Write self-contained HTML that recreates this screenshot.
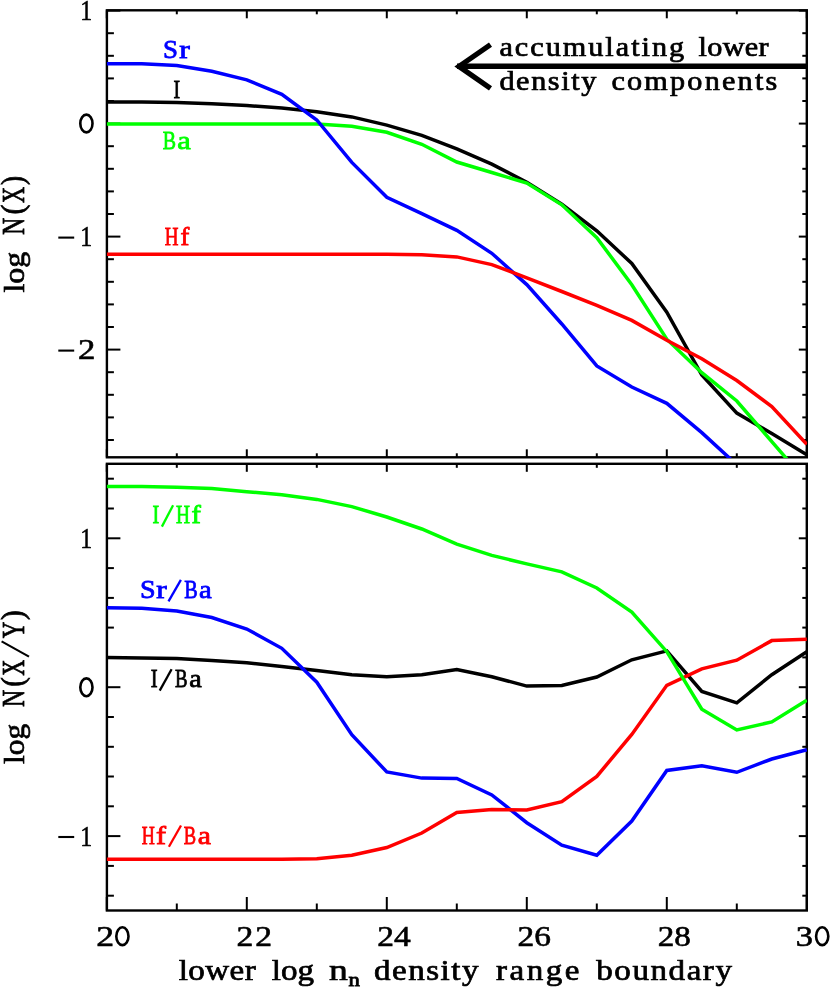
<!DOCTYPE html>
<html><head><meta charset="utf-8"><title>chart</title>
<style>
html,body{margin:0;padding:0;background:#fff;}
body{width:830px;height:990px;overflow:hidden;}
svg{display:block;will-change:transform;}
text{font-family:"Liberation Serif",serif;}
</style></head><body>
<svg width="830" height="990" viewBox="0 0 830 990">
<rect x="0" y="0" width="830" height="990" fill="#fff"/>
<defs>
<clipPath id="c1"><rect x="106.6" y="10.3" width="700.5" height="447.6"/></clipPath>
<clipPath id="c2"><rect x="106.6" y="463.8" width="700.5" height="447.3"/></clipPath>
</defs>
<g>
<line x1="106.8" y1="10.3" x2="106.8" y2="18.3" stroke="#000" stroke-width="2.0"/>
<line x1="176.8" y1="10.3" x2="176.8" y2="14.3" stroke="#000" stroke-width="2.0"/>
<line x1="246.8" y1="10.3" x2="246.8" y2="18.3" stroke="#000" stroke-width="2.0"/>
<line x1="316.8" y1="10.3" x2="316.8" y2="14.3" stroke="#000" stroke-width="2.0"/>
<line x1="386.8" y1="10.3" x2="386.8" y2="18.3" stroke="#000" stroke-width="2.0"/>
<line x1="456.8" y1="10.3" x2="456.8" y2="14.3" stroke="#000" stroke-width="2.0"/>
<line x1="526.8" y1="10.3" x2="526.8" y2="18.3" stroke="#000" stroke-width="2.0"/>
<line x1="596.8" y1="10.3" x2="596.8" y2="14.3" stroke="#000" stroke-width="2.0"/>
<line x1="666.8" y1="10.3" x2="666.8" y2="18.3" stroke="#000" stroke-width="2.0"/>
<line x1="736.8" y1="10.3" x2="736.8" y2="14.3" stroke="#000" stroke-width="2.0"/>
<line x1="806.8" y1="10.3" x2="806.8" y2="18.3" stroke="#000" stroke-width="2.0"/>
<line x1="106.8" y1="457.3" x2="106.8" y2="449.3" stroke="#000" stroke-width="2.0"/>
<line x1="176.8" y1="457.3" x2="176.8" y2="453.3" stroke="#000" stroke-width="2.0"/>
<line x1="246.8" y1="457.3" x2="246.8" y2="449.3" stroke="#000" stroke-width="2.0"/>
<line x1="316.8" y1="457.3" x2="316.8" y2="453.3" stroke="#000" stroke-width="2.0"/>
<line x1="386.8" y1="457.3" x2="386.8" y2="449.3" stroke="#000" stroke-width="2.0"/>
<line x1="456.8" y1="457.3" x2="456.8" y2="453.3" stroke="#000" stroke-width="2.0"/>
<line x1="526.8" y1="457.3" x2="526.8" y2="449.3" stroke="#000" stroke-width="2.0"/>
<line x1="596.8" y1="457.3" x2="596.8" y2="453.3" stroke="#000" stroke-width="2.0"/>
<line x1="666.8" y1="457.3" x2="666.8" y2="449.3" stroke="#000" stroke-width="2.0"/>
<line x1="736.8" y1="457.3" x2="736.8" y2="453.3" stroke="#000" stroke-width="2.0"/>
<line x1="806.8" y1="457.3" x2="806.8" y2="449.3" stroke="#000" stroke-width="2.0"/>
<line x1="106.9" y1="440.0" x2="113.9" y2="440.0" stroke="#000" stroke-width="2.0"/>
<line x1="106.9" y1="417.4" x2="113.9" y2="417.4" stroke="#000" stroke-width="2.0"/>
<line x1="106.9" y1="394.8" x2="113.9" y2="394.8" stroke="#000" stroke-width="2.0"/>
<line x1="106.9" y1="372.2" x2="113.9" y2="372.2" stroke="#000" stroke-width="2.0"/>
<line x1="106.9" y1="349.6" x2="120.4" y2="349.6" stroke="#000" stroke-width="2.0"/>
<line x1="106.9" y1="327.0" x2="113.9" y2="327.0" stroke="#000" stroke-width="2.0"/>
<line x1="106.9" y1="304.4" x2="113.9" y2="304.4" stroke="#000" stroke-width="2.0"/>
<line x1="106.9" y1="281.8" x2="113.9" y2="281.8" stroke="#000" stroke-width="2.0"/>
<line x1="106.9" y1="259.2" x2="113.9" y2="259.2" stroke="#000" stroke-width="2.0"/>
<line x1="106.9" y1="236.6" x2="120.4" y2="236.6" stroke="#000" stroke-width="2.0"/>
<line x1="106.9" y1="214.0" x2="113.9" y2="214.0" stroke="#000" stroke-width="2.0"/>
<line x1="106.9" y1="191.4" x2="113.9" y2="191.4" stroke="#000" stroke-width="2.0"/>
<line x1="106.9" y1="168.8" x2="113.9" y2="168.8" stroke="#000" stroke-width="2.0"/>
<line x1="106.9" y1="146.2" x2="113.9" y2="146.2" stroke="#000" stroke-width="2.0"/>
<line x1="106.9" y1="123.6" x2="120.4" y2="123.6" stroke="#000" stroke-width="2.0"/>
<line x1="106.9" y1="101.0" x2="113.9" y2="101.0" stroke="#000" stroke-width="2.0"/>
<line x1="106.9" y1="78.4" x2="113.9" y2="78.4" stroke="#000" stroke-width="2.0"/>
<line x1="106.9" y1="55.8" x2="113.9" y2="55.8" stroke="#000" stroke-width="2.0"/>
<line x1="106.9" y1="33.2" x2="113.9" y2="33.2" stroke="#000" stroke-width="2.0"/>
<line x1="106.9" y1="10.6" x2="120.4" y2="10.6" stroke="#000" stroke-width="2.0"/>
<line x1="806.8" y1="440.0" x2="802.3" y2="440.0" stroke="#000" stroke-width="2.0"/>
<line x1="806.8" y1="417.4" x2="802.3" y2="417.4" stroke="#000" stroke-width="2.0"/>
<line x1="806.8" y1="394.8" x2="802.3" y2="394.8" stroke="#000" stroke-width="2.0"/>
<line x1="806.8" y1="372.2" x2="802.3" y2="372.2" stroke="#000" stroke-width="2.0"/>
<line x1="806.8" y1="349.6" x2="798.8" y2="349.6" stroke="#000" stroke-width="2.0"/>
<line x1="806.8" y1="327.0" x2="802.3" y2="327.0" stroke="#000" stroke-width="2.0"/>
<line x1="806.8" y1="304.4" x2="802.3" y2="304.4" stroke="#000" stroke-width="2.0"/>
<line x1="806.8" y1="281.8" x2="802.3" y2="281.8" stroke="#000" stroke-width="2.0"/>
<line x1="806.8" y1="259.2" x2="802.3" y2="259.2" stroke="#000" stroke-width="2.0"/>
<line x1="806.8" y1="236.6" x2="798.8" y2="236.6" stroke="#000" stroke-width="2.0"/>
<line x1="806.8" y1="214.0" x2="802.3" y2="214.0" stroke="#000" stroke-width="2.0"/>
<line x1="806.8" y1="191.4" x2="802.3" y2="191.4" stroke="#000" stroke-width="2.0"/>
<line x1="806.8" y1="168.8" x2="802.3" y2="168.8" stroke="#000" stroke-width="2.0"/>
<line x1="806.8" y1="146.2" x2="802.3" y2="146.2" stroke="#000" stroke-width="2.0"/>
<line x1="806.8" y1="123.6" x2="798.8" y2="123.6" stroke="#000" stroke-width="2.0"/>
<line x1="806.8" y1="101.0" x2="802.3" y2="101.0" stroke="#000" stroke-width="2.0"/>
<line x1="806.8" y1="78.4" x2="802.3" y2="78.4" stroke="#000" stroke-width="2.0"/>
<line x1="806.8" y1="55.8" x2="802.3" y2="55.8" stroke="#000" stroke-width="2.0"/>
<line x1="806.8" y1="33.2" x2="802.3" y2="33.2" stroke="#000" stroke-width="2.0"/>
<line x1="806.8" y1="10.6" x2="798.8" y2="10.6" stroke="#000" stroke-width="2.0"/>
<line x1="106.8" y1="463.8" x2="106.8" y2="471.8" stroke="#000" stroke-width="2.0"/>
<line x1="176.8" y1="463.8" x2="176.8" y2="467.8" stroke="#000" stroke-width="2.0"/>
<line x1="246.8" y1="463.8" x2="246.8" y2="471.8" stroke="#000" stroke-width="2.0"/>
<line x1="316.8" y1="463.8" x2="316.8" y2="467.8" stroke="#000" stroke-width="2.0"/>
<line x1="386.8" y1="463.8" x2="386.8" y2="471.8" stroke="#000" stroke-width="2.0"/>
<line x1="456.8" y1="463.8" x2="456.8" y2="467.8" stroke="#000" stroke-width="2.0"/>
<line x1="526.8" y1="463.8" x2="526.8" y2="471.8" stroke="#000" stroke-width="2.0"/>
<line x1="596.8" y1="463.8" x2="596.8" y2="467.8" stroke="#000" stroke-width="2.0"/>
<line x1="666.8" y1="463.8" x2="666.8" y2="471.8" stroke="#000" stroke-width="2.0"/>
<line x1="736.8" y1="463.8" x2="736.8" y2="467.8" stroke="#000" stroke-width="2.0"/>
<line x1="806.8" y1="463.8" x2="806.8" y2="471.8" stroke="#000" stroke-width="2.0"/>
<line x1="106.8" y1="910.5" x2="106.8" y2="897.0" stroke="#000" stroke-width="2.0"/>
<line x1="176.8" y1="910.5" x2="176.8" y2="903.5" stroke="#000" stroke-width="2.0"/>
<line x1="246.8" y1="910.5" x2="246.8" y2="897.0" stroke="#000" stroke-width="2.0"/>
<line x1="316.8" y1="910.5" x2="316.8" y2="903.5" stroke="#000" stroke-width="2.0"/>
<line x1="386.8" y1="910.5" x2="386.8" y2="897.0" stroke="#000" stroke-width="2.0"/>
<line x1="456.8" y1="910.5" x2="456.8" y2="903.5" stroke="#000" stroke-width="2.0"/>
<line x1="526.8" y1="910.5" x2="526.8" y2="897.0" stroke="#000" stroke-width="2.0"/>
<line x1="596.8" y1="910.5" x2="596.8" y2="903.5" stroke="#000" stroke-width="2.0"/>
<line x1="666.8" y1="910.5" x2="666.8" y2="897.0" stroke="#000" stroke-width="2.0"/>
<line x1="736.8" y1="910.5" x2="736.8" y2="903.5" stroke="#000" stroke-width="2.0"/>
<line x1="806.8" y1="910.5" x2="806.8" y2="897.0" stroke="#000" stroke-width="2.0"/>
<line x1="106.9" y1="895.7" x2="113.9" y2="895.7" stroke="#000" stroke-width="2.0"/>
<line x1="106.9" y1="865.9" x2="113.9" y2="865.9" stroke="#000" stroke-width="2.0"/>
<line x1="106.9" y1="836.1" x2="120.4" y2="836.1" stroke="#000" stroke-width="2.0"/>
<line x1="106.9" y1="806.3" x2="113.9" y2="806.3" stroke="#000" stroke-width="2.0"/>
<line x1="106.9" y1="776.5" x2="113.9" y2="776.5" stroke="#000" stroke-width="2.0"/>
<line x1="106.9" y1="746.8" x2="113.9" y2="746.8" stroke="#000" stroke-width="2.0"/>
<line x1="106.9" y1="717.0" x2="113.9" y2="717.0" stroke="#000" stroke-width="2.0"/>
<line x1="106.9" y1="687.2" x2="120.4" y2="687.2" stroke="#000" stroke-width="2.0"/>
<line x1="106.9" y1="657.4" x2="113.9" y2="657.4" stroke="#000" stroke-width="2.0"/>
<line x1="106.9" y1="627.6" x2="113.9" y2="627.6" stroke="#000" stroke-width="2.0"/>
<line x1="106.9" y1="597.9" x2="113.9" y2="597.9" stroke="#000" stroke-width="2.0"/>
<line x1="106.9" y1="568.1" x2="113.9" y2="568.1" stroke="#000" stroke-width="2.0"/>
<line x1="106.9" y1="538.3" x2="120.4" y2="538.3" stroke="#000" stroke-width="2.0"/>
<line x1="106.9" y1="508.5" x2="113.9" y2="508.5" stroke="#000" stroke-width="2.0"/>
<line x1="106.9" y1="478.7" x2="113.9" y2="478.7" stroke="#000" stroke-width="2.0"/>
<line x1="806.8" y1="895.7" x2="802.3" y2="895.7" stroke="#000" stroke-width="2.0"/>
<line x1="806.8" y1="865.9" x2="802.3" y2="865.9" stroke="#000" stroke-width="2.0"/>
<line x1="806.8" y1="836.1" x2="798.8" y2="836.1" stroke="#000" stroke-width="2.0"/>
<line x1="806.8" y1="806.3" x2="802.3" y2="806.3" stroke="#000" stroke-width="2.0"/>
<line x1="806.8" y1="776.5" x2="802.3" y2="776.5" stroke="#000" stroke-width="2.0"/>
<line x1="806.8" y1="746.8" x2="802.3" y2="746.8" stroke="#000" stroke-width="2.0"/>
<line x1="806.8" y1="717.0" x2="802.3" y2="717.0" stroke="#000" stroke-width="2.0"/>
<line x1="806.8" y1="687.2" x2="798.8" y2="687.2" stroke="#000" stroke-width="2.0"/>
<line x1="806.8" y1="657.4" x2="802.3" y2="657.4" stroke="#000" stroke-width="2.0"/>
<line x1="806.8" y1="627.6" x2="802.3" y2="627.6" stroke="#000" stroke-width="2.0"/>
<line x1="806.8" y1="597.9" x2="802.3" y2="597.9" stroke="#000" stroke-width="2.0"/>
<line x1="806.8" y1="568.1" x2="802.3" y2="568.1" stroke="#000" stroke-width="2.0"/>
<line x1="806.8" y1="538.3" x2="798.8" y2="538.3" stroke="#000" stroke-width="2.0"/>
<line x1="806.8" y1="508.5" x2="802.3" y2="508.5" stroke="#000" stroke-width="2.0"/>
<line x1="806.8" y1="478.7" x2="802.3" y2="478.7" stroke="#000" stroke-width="2.0"/>
</g>
<rect x="106.9" y="10.3" width="699.9" height="447.0" fill="none" stroke="#000" stroke-width="2.4"/>
<rect x="106.9" y="463.8" width="699.9" height="446.7" fill="none" stroke="#000" stroke-width="2.4"/>
<g clip-path="url(#c1)">
<polyline points="106.8,101.9 141.8,102.1 176.8,102.6 211.8,103.8 246.8,105.5 281.8,108.1 316.8,111.8 351.8,116.9 386.8,125.1 421.8,135.4 456.8,148.8 491.8,164.1 526.8,182.2 561.8,204.3 596.8,230.8 631.8,263.5 666.8,312.2 701.8,375.0 736.8,413.1 771.8,433.6 806.8,454.7" fill="none" stroke="#000" stroke-width="3.5" stroke-linejoin="miter" stroke-miterlimit="6" stroke-linecap="butt"/>
<polyline points="106.8,123.9 141.8,123.9 176.8,123.9 211.8,123.9 246.8,123.9 281.8,123.9 316.8,123.9 351.8,126.3 386.8,132.3 421.8,144.3 456.8,162.0 491.8,172.5 526.8,183.1 561.8,204.8 596.8,237.6 631.8,284.8 666.8,339.2 701.8,372.7 736.8,401.0 771.8,441.6 806.8,482.0" fill="none" stroke="#00ff00" stroke-width="3.5" stroke-linejoin="miter" stroke-miterlimit="6" stroke-linecap="butt"/>
<polyline points="106.8,63.7 141.8,63.8 176.8,65.4 211.8,71.2 246.8,79.9 281.8,94.3 316.8,120.0 351.8,162.4 386.8,197.3 421.8,213.7 456.8,230.4 491.8,253.3 526.8,284.6 561.8,324.0 596.8,365.9 631.8,387.0 666.8,403.3 701.8,432.6 736.8,464.8" fill="none" stroke="#0000ff" stroke-width="3.5" stroke-linejoin="miter" stroke-miterlimit="6" stroke-linecap="butt"/>
<polyline points="106.8,254.2 141.8,254.2 176.8,254.2 211.8,254.2 246.8,254.2 281.8,254.2 316.8,254.2 351.8,254.2 386.8,254.2 421.8,254.7 456.8,256.9 491.8,264.6 526.8,277.8 561.8,291.5 596.8,305.4 631.8,320.4 666.8,340.2 701.8,358.7 736.8,380.5 771.8,406.6 806.8,444.3" fill="none" stroke="#ff0000" stroke-width="3.5" stroke-linejoin="miter" stroke-miterlimit="6" stroke-linecap="butt"/>
</g>
<g clip-path="url(#c2)">
<polyline points="106.8,657.5 141.8,658.0 176.8,658.4 211.8,660.4 246.8,662.8 281.8,666.4 316.8,670.6 351.8,674.8 386.8,676.8 421.8,674.8 456.8,669.6 491.8,676.7 526.8,686.1 561.8,685.4 596.8,677.0 631.8,659.8 666.8,650.9 701.8,691.4 736.8,702.8 771.8,674.7 806.8,651.7" fill="none" stroke="#000" stroke-width="3.5" stroke-linejoin="miter" stroke-miterlimit="6" stroke-linecap="butt"/>
<polyline points="106.8,607.8 141.8,608.3 176.8,611.0 211.8,617.5 246.8,629.0 281.8,648.3 316.8,682.2 351.8,734.7 386.8,772.0 421.8,778.1 456.8,778.4 491.8,794.9 526.8,822.7 561.8,845.1 596.8,855.2 631.8,821.0 666.8,770.4 701.8,765.7 736.8,772.3 771.8,759.0 806.8,749.8" fill="none" stroke="#0000ff" stroke-width="3.5" stroke-linejoin="miter" stroke-miterlimit="6" stroke-linecap="butt"/>
<polyline points="106.8,859.3 141.8,859.3 176.8,859.3 211.8,859.3 246.8,859.3 281.8,859.3 316.8,858.8 351.8,855.2 386.8,847.5 421.8,833.0 456.8,812.4 491.8,809.4 526.8,809.9 561.8,801.7 596.8,776.4 631.8,734.4 666.8,685.3 701.8,668.9 736.8,660.2 771.8,640.6 806.8,639.2" fill="none" stroke="#ff0000" stroke-width="3.5" stroke-linejoin="miter" stroke-miterlimit="6" stroke-linecap="butt"/>
<polyline points="106.8,486.4 141.8,486.6 176.8,487.3 211.8,488.6 246.8,491.7 281.8,494.8 316.8,499.4 351.8,506.6 386.8,517.0 421.8,529.0 456.8,544.2 491.8,555.4 526.8,563.9 561.8,571.8 596.8,588.0 631.8,612.0 666.8,651.7 701.8,709.2 736.8,729.9 771.8,721.9 806.8,700.2" fill="none" stroke="#00ff00" stroke-width="3.5" stroke-linejoin="miter" stroke-miterlimit="6" stroke-linecap="butt"/>
</g>
<polyline points="490.5,44.6 459,66.4 490.5,88.4" fill="none" stroke="#000" stroke-width="5.3" stroke-linejoin="miter" stroke-miterlimit="10"/>
<line x1="457" y1="66.3" x2="806.8" y2="66.3" stroke="#000" stroke-width="5.5"/>
<text transform="translate(80.21,20.10) scale(0.8078,1)" font-size="29.5" fill="#000" stroke="#000" stroke-width="0.6">1</text>
<ellipse cx="86.4" cy="123.5" rx="6.1" ry="8.9" fill="none" stroke="#000" stroke-width="2.6"/>
<line x1="58.3" y1="237.6" x2="74.2" y2="237.6" stroke="#000" stroke-width="2.1"/>
<text transform="translate(80.21,246.40) scale(0.8078,1)" font-size="29.5" fill="#000" stroke="#000" stroke-width="0.6">1</text>
<line x1="58.3" y1="350.6" x2="74.2" y2="350.6" stroke="#000" stroke-width="2.1"/>
<text transform="translate(78.04,359.30) scale(1.1780,1)" font-size="29.5" fill="#000" stroke="#000" stroke-width="0.6">2</text>
<text transform="translate(80.21,548.10) scale(0.8078,1)" font-size="29.5" fill="#000" stroke="#000" stroke-width="0.6">1</text>
<ellipse cx="86.4" cy="687.3" rx="6.1" ry="8.9" fill="none" stroke="#000" stroke-width="2.6"/>
<line x1="58.3" y1="837.0" x2="74.2" y2="837.0" stroke="#000" stroke-width="2.1"/>
<text transform="translate(80.21,845.80) scale(0.8078,1)" font-size="29.5" fill="#000" stroke="#000" stroke-width="0.6">1</text>
<text transform="translate(236.39,946.30) scale(1.1400,1)" font-size="29.5" fill="#000" stroke="#000" stroke-width="0.6" letter-spacing="1.871">22</text>
<text transform="translate(377.29,946.30) scale(1.1360,1)" font-size="29.5" fill="#000" stroke="#000" stroke-width="0.6">24</text>
<text transform="translate(517.60,946.30) scale(1.1324,1)" font-size="29.5" fill="#000" stroke="#000" stroke-width="0.6">26</text>
<text transform="translate(657.81,946.30) scale(1.1232,1)" font-size="29.5" fill="#000" stroke="#000" stroke-width="0.6">28</text>
<text transform="translate(96.29,946.30) scale(1.2119,1)" font-size="29.5" fill="#000" stroke="#000" stroke-width="0.6">2</text>
<ellipse cx="122.4" cy="936.2" rx="6.1" ry="8.9" fill="none" stroke="#000" stroke-width="2.6"/>
<text transform="translate(795.76,946.30) scale(1.1669,1)" font-size="29.5" fill="#000" stroke="#000" stroke-width="0.6">3</text>
<ellipse cx="822.2" cy="936.2" rx="6.1" ry="8.9" fill="none" stroke="#000" stroke-width="2.6"/>
<text transform="translate(178.69,979.50) scale(1.1400,1)" font-size="29" fill="#000" stroke="#000" stroke-width="0.7" letter-spacing="0.376">lower</text>
<text transform="translate(271.69,979.50) scale(1.1400,1)" font-size="29" fill="#000" stroke="#000" stroke-width="0.7" letter-spacing="0.083">log</text>
<text transform="translate(329.10,979.50) scale(1.2973,1)" font-size="29" fill="#000" stroke="#000" stroke-width="0.7">n</text>
<text transform="translate(348.49,985.60) scale(1.2613,1)" font-size="18" fill="#000" stroke="#000" stroke-width="0.8">n</text>
<text transform="translate(373.99,979.50) scale(1.1400,1)" font-size="29" fill="#000" stroke="#000" stroke-width="0.7" letter-spacing="1.313">density</text>
<text transform="translate(495.99,979.50) scale(1.1400,1)" font-size="29" fill="#000" stroke="#000" stroke-width="0.7" letter-spacing="2.202">range</text>
<text transform="translate(596.25,979.50) scale(1.1400,1)" font-size="29" fill="#000" stroke="#000" stroke-width="0.7" letter-spacing="1.364">boundary</text>
<text transform="translate(23.90,292.49) rotate(-90) scale(1.0820,1)" font-size="29.5" fill="#000" stroke="#000" stroke-width="0.7">log</text>
<text transform="translate(23.90,234.81) rotate(-90) scale(0.7607,1)" font-size="31" fill="#000" stroke="#000" stroke-width="0.8">N</text>
<text transform="translate(23.90,202.90) rotate(-90) scale(0.7184,1)" font-size="31" fill="#000" stroke="#000" stroke-width="0.8">X</text>
<text transform="translate(22.90,214.44) rotate(-90) scale(0.9614,1)" font-size="31" fill="#000" stroke="#000" stroke-width="0.8">(</text>
<text transform="translate(22.90,184.88) rotate(-90) scale(0.8769,1)" font-size="31" fill="#000" stroke="#000" stroke-width="0.8">)</text>
<text transform="translate(23.60,763.88) rotate(-90) scale(1.0656,1)" font-size="29.5" fill="#000" stroke="#000" stroke-width="0.7">log</text>
<text transform="translate(23.60,707.01) rotate(-90) scale(0.7655,1)" font-size="31" fill="#000" stroke="#000" stroke-width="0.8">N</text>
<text transform="translate(23.60,675.70) rotate(-90) scale(0.7137,1)" font-size="31" fill="#000" stroke="#000" stroke-width="0.8">X</text>
<text transform="translate(23.60,638.13) rotate(-90) scale(0.7413,1)" font-size="31" fill="#000" stroke="#000" stroke-width="0.8">Y</text>
<text transform="translate(22.60,686.79) rotate(-90) scale(0.9235,1)" font-size="31" fill="#000" stroke="#000" stroke-width="0.8">(</text>
<text transform="translate(22.60,619.95) rotate(-90) scale(0.9396,1)" font-size="31" fill="#000" stroke="#000" stroke-width="0.8">)</text>
<line x1="29.0" y1="656.7" x2="1.6" y2="641.4" stroke="#000" stroke-width="2.1"/>
<text transform="translate(499.39,55.80) scale(1.1400,1)" font-size="26.5" fill="#000" stroke="#000" stroke-width="0.7" letter-spacing="1.763">accumulating</text>
<text transform="translate(698.55,55.80) scale(1.1400,1)" font-size="26.5" fill="#000" stroke="#000" stroke-width="0.7" letter-spacing="0.291">lower</text>
<text transform="translate(499.39,89.70) scale(1.1400,1)" font-size="26.5" fill="#000" stroke="#000" stroke-width="0.7" letter-spacing="1.418">density</text>
<text transform="translate(611.42,89.70) scale(1.1400,1)" font-size="26.5" fill="#000" stroke="#000" stroke-width="0.7" letter-spacing="1.937">components</text>
<text transform="translate(162.98,58.20) scale(1.0549,1)" font-size="25.5" fill="#0000ff" stroke="#0000ff" stroke-width="0.8">S</text>
<text transform="translate(179.26,58.20) scale(1.2472,1)" font-size="25.5" fill="#0000ff" stroke="#0000ff" stroke-width="0.8">r</text>
<text transform="translate(173.61,97.80) scale(0.7768,1)" font-size="25.5" fill="#000" stroke="#000" stroke-width="0.8">I</text>
<text transform="translate(162.80,149.00) scale(0.7810,1)" font-size="25.5" fill="#00ff00" stroke="#00ff00" stroke-width="0.8">B</text>
<text transform="translate(177.34,149.00) scale(1.1914,1)" font-size="25.5" fill="#00ff00" stroke="#00ff00" stroke-width="0.8">a</text>
<text transform="translate(164.73,245.40) scale(0.7458,1)" font-size="25.5" fill="#ff0000" stroke="#ff0000" stroke-width="0.8">H</text>
<text transform="translate(180.41,245.40) scale(1.0371,1)" font-size="25.5" fill="#ff0000" stroke="#ff0000" stroke-width="0.8">f</text>
<text transform="translate(152.39,523.40) scale(0.7918,1)" font-size="25.5" fill="#00ff00" stroke="#00ff00" stroke-width="0.8">I</text>
<text transform="translate(176.02,523.40) scale(0.7577,1)" font-size="25.5" fill="#00ff00" stroke="#00ff00" stroke-width="0.8">H</text>
<text transform="translate(191.46,523.40) scale(1.1019,1)" font-size="25.5" fill="#00ff00" stroke="#00ff00" stroke-width="0.8">f</text>
<line x1="161.9" y1="526.6" x2="173.1" y2="505.2" stroke="#00ff00" stroke-width="2.3"/>
<text transform="translate(139.91,597.80) scale(1.1008,1)" font-size="25.5" fill="#0000ff" stroke="#0000ff" stroke-width="0.8">S</text>
<text transform="translate(156.27,597.80) scale(1.2343,1)" font-size="25.5" fill="#0000ff" stroke="#0000ff" stroke-width="0.8">r</text>
<text transform="translate(184.19,597.80) scale(0.7943,1)" font-size="25.5" fill="#0000ff" stroke="#0000ff" stroke-width="0.8">B</text>
<text transform="translate(198.90,597.80) scale(1.1219,1)" font-size="25.5" fill="#0000ff" stroke="#0000ff" stroke-width="0.8">a</text>
<line x1="168.5" y1="601.4" x2="180.9" y2="579.9" stroke="#0000ff" stroke-width="2.3"/>
<text transform="translate(150.68,686.90) scale(0.8067,1)" font-size="25.5" fill="#000" stroke="#000" stroke-width="0.8">I</text>
<text transform="translate(174.93,686.90) scale(0.7409,1)" font-size="25.5" fill="#000" stroke="#000" stroke-width="0.8">B</text>
<text transform="translate(189.22,686.90) scale(1.1020,1)" font-size="25.5" fill="#000" stroke="#000" stroke-width="0.8">a</text>
<line x1="159.7" y1="690.6" x2="171.6" y2="669.3" stroke="#000" stroke-width="2.3"/>
<text transform="translate(141.86,843.70) scale(0.7103,1)" font-size="25.5" fill="#ff0000" stroke="#ff0000" stroke-width="0.8">H</text>
<text transform="translate(156.00,843.70) scale(1.1797,1)" font-size="25.5" fill="#ff0000" stroke="#ff0000" stroke-width="0.8">f</text>
<text transform="translate(183.84,843.70) scale(0.7276,1)" font-size="25.5" fill="#ff0000" stroke="#ff0000" stroke-width="0.8">B</text>
<text transform="translate(197.76,843.70) scale(1.1616,1)" font-size="25.5" fill="#ff0000" stroke="#ff0000" stroke-width="0.8">a</text>
<line x1="168.9" y1="846.8" x2="181.0" y2="825.5" stroke="#ff0000" stroke-width="2.3"/>
</svg></body></html>
